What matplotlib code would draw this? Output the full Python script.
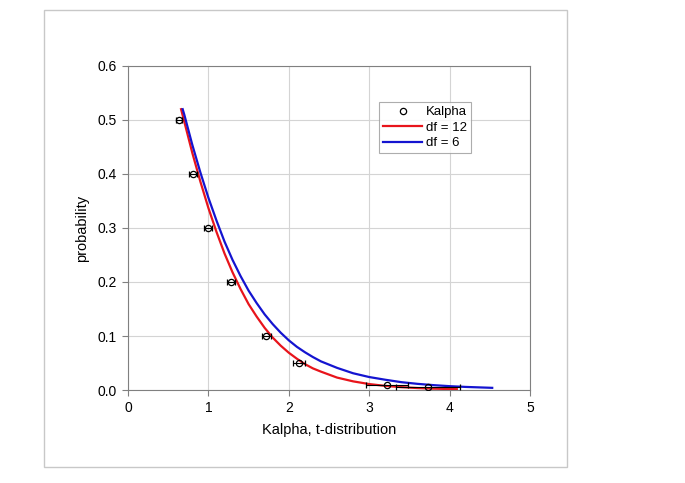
import matplotlib.pyplot as plt
from matplotlib.patches import Rectangle
from matplotlib.lines import Line2D

plt.rcParams['font.family'] = ['Liberation Sans', 'DejaVu Sans']

# measured Kalpha points with horizontal error bars
kalpha_x = [0.634, 0.81, 1.0, 1.28, 1.72, 2.13, 3.22, 3.73]
kalpha_p = [0.5, 0.4, 0.3, 0.2, 0.1, 0.05, 0.01, 0.005]
kalpha_err = [0.04, 0.05, 0.05, 0.05, 0.055, 0.075, 0.26, 0.40]

# t-distribution curves
df12_t = [0.66, 0.7, 0.75, 0.8, 0.9, 1.0, 1.1, 1.2, 1.3, 1.4, 1.5, 1.6, 1.7, 1.8, 1.9, 2.0,
          2.1, 2.2, 2.3, 2.4, 2.6, 2.8, 3.0, 3.2, 3.4, 3.6, 3.8, 4.0, 4.09]
df12_p = [0.52, 0.497, 0.468, 0.439, 0.386, 0.337, 0.293, 0.253, 0.218, 0.187, 0.159, 0.136,
          0.115, 0.097, 0.082, 0.069, 0.058, 0.048, 0.040, 0.034, 0.023, 0.016, 0.011,
          0.0076, 0.0053, 0.0036, 0.0025, 0.0018, 0.0015]
df6_t = [0.68, 0.7, 0.8, 0.9, 1.0, 1.1, 1.2, 1.3, 1.4, 1.5, 1.6, 1.7, 1.8, 1.9, 2.0, 2.1,
         2.2, 2.3, 2.4, 2.6, 2.8, 3.0, 3.2, 3.4, 3.6, 3.8, 4.0, 4.2, 4.53]
df6_p = [0.52, 0.510, 0.454, 0.403, 0.356, 0.314, 0.275, 0.241, 0.211, 0.184, 0.161, 0.140,
         0.122, 0.106, 0.092, 0.080, 0.070, 0.061, 0.053, 0.041, 0.031, 0.024,
         0.019, 0.0145, 0.0114, 0.009, 0.0071, 0.0057, 0.004]

fig = plt.figure(figsize=(6.85, 4.83), dpi=100)
ax = fig.add_axes([128 / 685, 1 - 390 / 483, 402 / 685, 324 / 483])

# outer chart border
fig.patches.append(Rectangle((44 / 685, 1 - 467 / 483), 523 / 685, 457 / 483,
                             transform=fig.transFigure, fill=False, edgecolor='#c8c8c8', linewidth=1))

ax.errorbar(kalpha_x, kalpha_p, xerr=kalpha_err, fmt='o', mfc='none', mec='black', ms=4.5,
            mew=0.9, ecolor='black', elinewidth=0.8, capsize=2.5, capthick=0.8, zorder=4)
ax.plot(df12_t, df12_p, color='#e8141b', linewidth=1.6, zorder=3)
ax.plot(df6_t, df6_p, color='#1414d0', linewidth=1.6, zorder=3)

ax.set_xlim(0, 5)
ax.set_ylim(0, 0.6)
ax.set_xticks([0, 1, 2, 3, 4, 5])
ax.set_yticks([0.0, 0.1, 0.2, 0.3, 0.4, 0.5, 0.6])
ax.set_yticklabels(['0.0', '0.1', '0.2', '0.3', '0.4', '0.5', '0.6'])
ax.grid(True, color='#d4d4d4', linewidth=0.8)
ax.set_axisbelow(True)
for s in ax.spines.values():
    s.set_color('#808080')
    s.set_linewidth(0.8)
ax.tick_params(direction='out', length=4, color='#808080', labelsize=10, pad=4)

ax.set_xlabel('Kalpha, t-distribution', fontsize=10.5, labelpad=6)
ax.set_ylabel('probability', fontsize=10.5, labelpad=6)

# legend shows the marker only, without error bar
handles = [
    Line2D([], [], marker='o', ls='none', mfc='none', mec='black', ms=4.5, mew=0.9),
    Line2D([], [], color='#e8141b', linewidth=1.6),
    Line2D([], [], color='#1414d0', linewidth=1.6),
]
leg = ax.legend(handles, ['Kalpha', 'df = 12', 'df = 6'], loc='upper left',
                bbox_to_anchor=(0.624, 0.889), borderaxespad=0, fontsize=9.5, frameon=True,
                fancybox=False, edgecolor='#999999', handlelength=3.0, handletextpad=0.3,
                borderpad=0.3, labelspacing=0.25)
leg.get_frame().set_linewidth(0.8)

fig.savefig('out.png', dpi=100)
